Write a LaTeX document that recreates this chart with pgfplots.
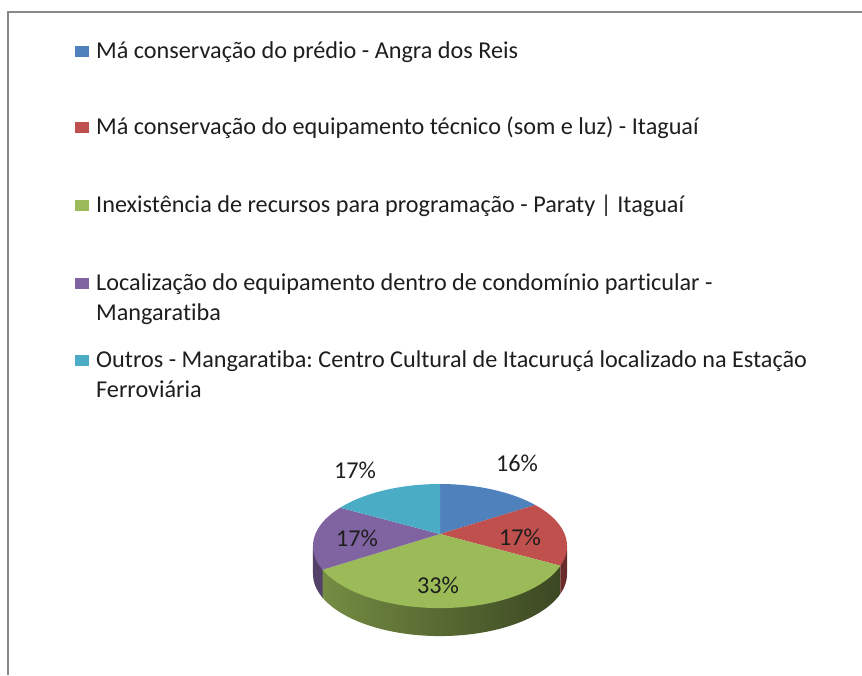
\documentclass[border=0pt]{standalone}
\usepackage{pgfplots}
\pgfplotsset{compat=1.18}
\usepackage{pgfplotstable}
\usepackage{fontspec}
\setmainfont{Carlito}[Ligatures=NoCommon]
\frenchspacing

\definecolor{cBlue}{HTML}{4F81BD}
\definecolor{cRed}{HTML}{C0504D}
\definecolor{cGreen}{HTML}{9BBB59}
\definecolor{cPurple}{HTML}{8064A2}
\definecolor{cAqua}{HTML}{4BACC6}
\definecolor{txt}{HTML}{1E1E1E}
\definecolor{frame}{HTML}{888888}

% percentages, clockwise from 12 o'clock
\pgfplotstableread{
idx pct
0 16
1 17
2 33
3 17
4 17
}\slices

% projected rim of the pie (pixel units, y downwards)
\newcommand{\PX}[1]{440+124.6*cos(#1)/(1+0.194*sin(#1))}
\newcommand{\PY}[1]{534-59.7*sin(#1)/(1+0.194*sin(#1))}
\def\depth{28}

\tikzset{lbl/.style={font=\fontsize{24.2}{29}\selectfont, text=txt, inner sep=0pt}}

\begin{document}
\begin{tikzpicture}
% slice boundaries
\pgfplotstablegetelem{0}{pct}\of\slices \pgfmathsetmacro{\aA}{90-3.6*\pgfplotsretval}
\pgfplotstablegetelem{1}{pct}\of\slices \pgfmathsetmacro{\aB}{\aA-3.6*\pgfplotsretval}
\pgfplotstablegetelem{2}{pct}\of\slices \pgfmathsetmacro{\aC}{\aB-3.6*\pgfplotsretval}
\pgfplotstablegetelem{3}{pct}\of\slices \pgfmathsetmacro{\aD}{\aC-3.6*\pgfplotsretval}
\pgfplotstablegetelem{4}{pct}\of\slices \pgfmathsetmacro{\aE}{\aD-3.6*\pgfplotsretval}
\pgfmathsetmacro{\sR}{-asin(0.194)}
\pgfmathsetmacro{\sL}{-180+asin(0.194)}
\pgfmathsetmacro{\xB}{\PX{\aB}} \pgfmathsetmacro{\yB}{\PY{\aB}}
\pgfmathsetmacro{\xC}{\PX{\aC}} \pgfmathsetmacro{\yC}{\PY{\aC}}
\pgfmathsetmacro{\xR}{\PX{\sR}} \pgfmathsetmacro{\yR}{\PY{\sR}}
\pgfmathsetmacro{\xL}{\PX{\sL}} \pgfmathsetmacro{\yL}{\PY{\sL}}
\begin{axis}[
    scale only axis,
    width=862pt, height=675pt,
    xmin=0, xmax=862, ymin=0, ymax=675,
    y dir=reverse,
    hide axis,
    clip=false,
]
% frame
\draw[frame, line width=2pt] (axis cs:8,675) -- (axis cs:8,12) -- (axis cs:862,12);

% sides
\addplot[draw=none, left color=cGreen!75!black, middle color=cGreen!62!black, right color=cGreen!38!black,
    domain=\aC:\aB, samples=60, variable=\t]
    ({\PX{\t}}, {\PY{\t}+\depth}) -- (axis cs:\xB,\yB) -- (axis cs:\xC,\yC) -- cycle;
\addplot[draw=none, fill=cRed!55!black, domain=\aB:\sR, samples=20, variable=\t]
    ({\PX{\t}}, {\PY{\t}+\depth}) -- (axis cs:\xR,\yR) -- (axis cs:\xB,\yB) -- cycle;
\addplot[draw=none, fill=cPurple!65!black, domain=\sL:\aC, samples=20, variable=\t]
    ({\PX{\t}}, {\PY{\t}+\depth}) -- (axis cs:\xC,\yC) -- (axis cs:\xL,\yL) -- cycle;

% top faces
\addplot[draw=none, fill=cBlue, domain=\aA:90, samples=40, variable=\t]
    ({\PX{\t}}, {\PY{\t}}) -- (axis cs:440,534) -- cycle;
\addplot[draw=none, fill=cRed, domain=\aB:\aA, samples=40, variable=\t]
    ({\PX{\t}}, {\PY{\t}}) -- (axis cs:440,534) -- cycle;
\addplot[draw=none, fill=cGreen, domain=\aC:\aB, samples=80, variable=\t]
    ({\PX{\t}}, {\PY{\t}}) -- (axis cs:440,534) -- cycle;
\addplot[draw=none, fill=cPurple, domain=\aD:\aC, samples=40, variable=\t]
    ({\PX{\t}}, {\PY{\t}}) -- (axis cs:440,534) -- cycle;
\addplot[draw=none, fill=cAqua, domain=\aE:\aD, samples=40, variable=\t]
    ({\PX{\t}}, {\PY{\t}}) -- (axis cs:440,534) -- cycle;

% data labels
\node[lbl] at (axis cs:517,463) {16\%};
\node[lbl] at (axis cs:520,537) {17\%};
\node[lbl] at (axis cs:438,585) {33\%};
\node[lbl] at (axis cs:357,538) {17\%};
\node[lbl] at (axis cs:355,470) {17\%};

% legend
\fill[cBlue]   (axis cs:75,46)  rectangle (axis cs:89,57);
\fill[cRed]    (axis cs:75,122) rectangle (axis cs:89,133);
\fill[cGreen]  (axis cs:75,200) rectangle (axis cs:89,211);
\fill[cPurple] (axis cs:75,278) rectangle (axis cs:89,289);
\fill[cAqua]   (axis cs:75,355) rectangle (axis cs:89,366);
\node[lbl, anchor=base west] at (axis cs:96,58)  {Má conservação do prédio - Angra dos Reis};
\node[lbl, anchor=base west] at (axis cs:96,134) {Má conservação do equipamento técnico (som e luz) - Itaguaí};
\node[lbl, anchor=base west] at (axis cs:96,212) {Inexistência de recursos para programação - Paraty | Itaguaí};
\node[lbl, anchor=base west] at (axis cs:96,290) {Localização do equipamento dentro de condomínio particular -};
\node[lbl, anchor=base west] at (axis cs:96,320) {Mangaratiba};
\node[lbl, anchor=base west] at (axis cs:96,367) {Outros - Mangaratiba: Centro Cultural de Itacuruçá localizado na Estação};
\node[lbl, anchor=base west] at (axis cs:96,397) {Ferroviária};
\end{axis}
\pgfresetboundingbox
\path (current axis.south west) rectangle (current axis.north east);
\end{tikzpicture}
\end{document}
